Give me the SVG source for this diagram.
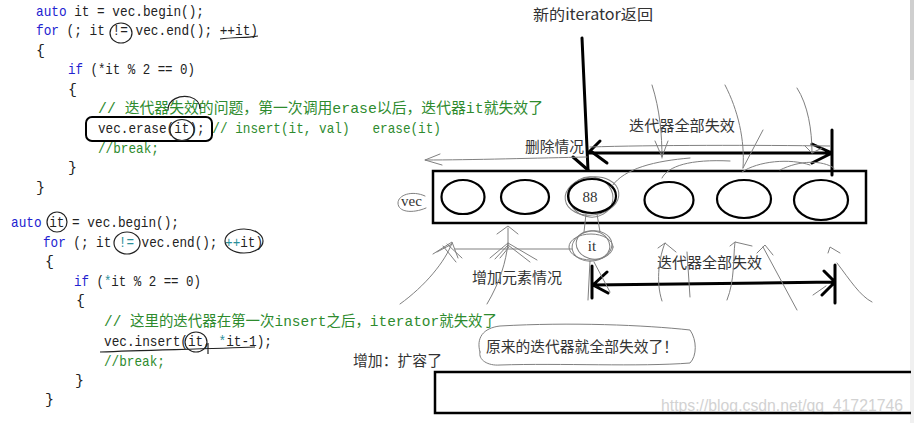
<svg xmlns="http://www.w3.org/2000/svg" width="914" height="423" viewBox="0 0 914 423">
<style>
.code{font-family:"Liberation Mono","Noto Sans CJK SC",monospace;font-size:15px;fill:#222;white-space:pre}
.kw{fill:#2222d0}
.cm{fill:#2e8b2e}
.op{fill:#2b8f9a}
.lbl{font-family:"Noto Sans CJK SC","Noto Sans CJK JP",sans-serif;font-size:15px;fill:#333}
.ser{font-family:"Liberation Serif",serif;font-size:15px;fill:#333}
.wm{font-family:"Liberation Sans",Arial,sans-serif;font-size:17px;fill:#d2d2d2}
.thick{stroke:#000;stroke-width:3;fill:none;stroke-linecap:round;stroke-linejoin:round}
.ell{stroke:#000;stroke-width:2.2;fill:none}
.pen{stroke:#222;stroke-width:1.2;fill:none}
.sc{stroke:#808080;stroke-width:1;fill:none;stroke-linecap:round}
</style>
<rect width="914" height="423" fill="#fff"/>
<g id="scrollbar">
<rect x="910" y="0" width="4" height="423" fill="#f0f0f0"/>
<rect x="910" y="0" width="4" height="80" fill="#cfcfcf"/>
</g>
<g id="code1">
<text class="code" x="36" y="16" textLength="168" lengthAdjust="spacingAndGlyphs"><tspan class="kw">auto</tspan> it = vec.begin();</text>
<text class="code" x="36" y="35" textLength="222" lengthAdjust="spacingAndGlyphs"><tspan class="kw">for</tspan> (; it != vec.end(); ++it)</text>
<text class="code" x="36" y="55">{</text>
<text class="code" x="68" y="74" textLength="127" lengthAdjust="spacingAndGlyphs"><tspan class="kw">if</tspan> (*it % 2 == 0)</text>
<text class="code" x="68" y="94">{</text>
<text class="code cm" x="98" y="113" textLength="445" lengthAdjust="spacingAndGlyphs">// 迭代器失效的问题，第一次调用erase以后，迭代器it就失效了</text>
<text class="code" x="98" y="133" xml:space="preserve" textLength="343" lengthAdjust="spacingAndGlyphs">vec.erase(it); <tspan class="cm">// insert(it, val)   erase(it)</tspan></text>
<text class="code cm" x="98" y="153" textLength="61" lengthAdjust="spacingAndGlyphs">//break;</text>
<text class="code" x="68" y="172">}</text>
<text class="code" x="36" y="192">}</text>
<ellipse class="pen" cx="121" cy="33" rx="11" ry="10"/>
<path class="pen" d="M220,39 C235,37 248,38 258,36"/>
<rect x="86" y="117" width="126" height="24" rx="6" fill="none" stroke="#000" stroke-width="2"/>
<ellipse class="pen" cx="182" cy="130" rx="12" ry="10.5"/>
<path class="pen" d="M168,110 C168,99 180,95 190,97 C197,99 200,104 200,109"/>
</g>
<g id="code2">
<text class="code" x="11" y="227" textLength="168" lengthAdjust="spacingAndGlyphs"><tspan class="kw">auto</tspan> it = vec.begin();</text>
<text class="code" x="43" y="247" textLength="220" lengthAdjust="spacingAndGlyphs"><tspan class="kw">for</tspan> (; it <tspan class="op">!=</tspan> vec.end(); <tspan class="op">++</tspan>it)</text>
<text class="code" x="45" y="266">{</text>
<text class="code" x="74" y="286" textLength="127" lengthAdjust="spacingAndGlyphs"><tspan class="kw">if</tspan> (<tspan class="op">*</tspan>it % 2 == 0)</text>
<text class="code" x="76" y="305">{</text>
<text class="code cm" x="104" y="326" textLength="393" lengthAdjust="spacingAndGlyphs">// 这里的迭代器在第一次insert之后，iterator就失效了</text>
<text class="code" x="104" y="346" textLength="168" lengthAdjust="spacingAndGlyphs">vec.insert(it, <tspan class="op">*</tspan>it-1);</text>
<text class="code cm" x="104" y="366" textLength="61" lengthAdjust="spacingAndGlyphs">//break;</text>
<text class="code" x="75" y="385">}</text>
<text class="code" x="45" y="404">}</text>
<ellipse class="pen" cx="57" cy="222" rx="10" ry="10"/>
<ellipse class="pen" cx="127" cy="243" rx="13" ry="11"/>
<ellipse class="pen" cx="244" cy="241" rx="19" ry="12"/>
<ellipse class="pen" cx="196" cy="342" rx="11" ry="10"/>
<path class="pen" d="M100,352 C150,350 210,349 255,347 M208,343 L208,354"/>
</g>
<g id="labels">
<text class="lbl" x="533" y="20" textLength="120" lengthAdjust="spacingAndGlyphs">新的iterator返回</text>
<text class="lbl" x="525" y="152" textLength="59" lengthAdjust="spacingAndGlyphs">删除情况</text>
<text class="lbl" x="629" y="131" textLength="106" lengthAdjust="spacingAndGlyphs">迭代器全部失效</text>
<text class="lbl" x="472" y="283" textLength="90" lengthAdjust="spacingAndGlyphs">增加元素情况</text>
<text class="lbl" x="657" y="268" textLength="105" lengthAdjust="spacingAndGlyphs">迭代器全部失效</text>
<text class="lbl" x="353" y="366" textLength="89" lengthAdjust="spacingAndGlyphs">增加：扩容了</text>
<text class="lbl" x="486" y="352" textLength="192" lengthAdjust="spacingAndGlyphs">原来的迭代器就全部失效了！</text>
<text class="wm" x="661" y="411" textLength="242" lengthAdjust="spacingAndGlyphs">https://blog.csdn.net/qq_41721746</text>
</g>
<g id="vector">
<rect x="433" y="171" width="433" height="52" fill="none" stroke="#000" stroke-width="2.5"/>
<ellipse class="ell" cx="463" cy="197" rx="21.5" ry="17"/>
<ellipse class="ell" cx="525" cy="197" rx="24" ry="17"/>
<ellipse class="sc" cx="592" cy="196" rx="27" ry="19" transform="rotate(-8 592 196)"/>
<ellipse class="sc" cx="591" cy="197" rx="22" ry="20" transform="rotate(12 591 197)"/>
<ellipse class="ell" cx="592" cy="196" rx="24" ry="17" stroke-width="3"/>
<text class="ser" x="590" y="202" text-anchor="middle">88</text>
<ellipse class="ell" cx="669" cy="200" rx="24.5" ry="18"/>
<ellipse class="ell" cx="744" cy="199" rx="27" ry="19"/>
<ellipse class="ell" cx="821" cy="200" rx="27" ry="20"/>
<text class="ser" x="401" y="206" font-size="13">vec</text>
<path class="sc" d="M425,196 C412,190 398,195 398,203 C398,212 412,214 426,208"/>
</g>
<g id="it-pointer">
<ellipse class="sc" cx="592" cy="246" rx="20" ry="15" stroke="#555" transform="rotate(-10 592 246)"/>
<ellipse class="sc" cx="593" cy="245" rx="17" ry="14" stroke="#555" transform="rotate(15 593 245)"/>
<ellipse class="sc" cx="591" cy="247" rx="22" ry="13" stroke="#444"/>
<text class="ser" x="592" y="251" text-anchor="middle">it</text>
</g>
<g id="connectors">
<path class="thick" d="M582,38 L588,170"/>
<path class="thick" d="M573,157 L588,170"/>
<path class="thick" d="M600,141 L589,152 M592,152 L607,163"/>
<path class="thick" d="M588,153 L832,153 M812,144 L832,153 L812,163 M832,130 L832,175"/>
<path class="thick" d="M592,266 L592,298 M592,285 L835,282 M607,272 L593,285 L608,293 M835,265 L835,303 M824,271 L835,282 L822,295"/>
<path class="sc" d="M590,147 C650,145 760,145 830,146"/>
<path class="sc" d="M587,157 C540,158 470,160 425,160 M440,154 L425,160 L442,165"/>
<path class="sc" d="M652,85 C660,110 662,135 662,158 M655,141 L662,157 L668,141"/>
<path class="sc" d="M725,85 C738,110 745,140 743,168 M763,130 L743,168"/>
<path class="sc" d="M797,88 C808,105 812,130 812,153 M805,146 L812,153 L822,148"/>
<path class="sc" d="M612,186 C625,168 655,161 690,158 M662,178 C668,166 690,159 730,161 M742,172 C758,161 790,158 810,165 M780,170 C800,160 822,160 834,168"/>
<path class="sc" d="M586,214 L584,232 M597,214 L600,232 M590,261 L588,300 M594,262 L610,292"/>
<path class="sc" d="M455,249 L572,249"/>
<path class="sc" d="M400,304 C425,286 445,262 452,243 M433,254 L452,242 L458,258 M437,252 L452,244 M443,246 L456,262 M447,244 L462,258"/>
<path class="sc" d="M487,304 C500,282 506,262 508,243 M490,258 L508,243 L537,260 M495,259 L508,245 L530,262 M500,258 L509,247 M508,247 L508,228 M497,234 L508,226 L518,234"/>
<path class="sc" d="M662,301 C655,280 660,255 665,243 L676,252 M658,248 L665,243 M687,252 L690,297"/>
<path class="sc" d="M727,300 C735,280 733,258 735,242 L752,246 M730,246 L735,242 M763,247 L797,310 M757,253 L765,245 L773,255"/>
<path class="sc" d="M828,253 L830,247 L840,253 M837,263 C850,280 860,296 872,302 M813,295 L826,286"/>
<path class="sc" d="M480,352 C476,338 483,328 500,326 C570,322 645,325 690,330 C697,340 697,356 690,363 C640,367 560,363 500,365 C488,366 478,360 480,352"/>
</g>
<path d="M911,372 H435 V413 H911" fill="none" stroke="#000" stroke-width="2.5"/>
</svg>
